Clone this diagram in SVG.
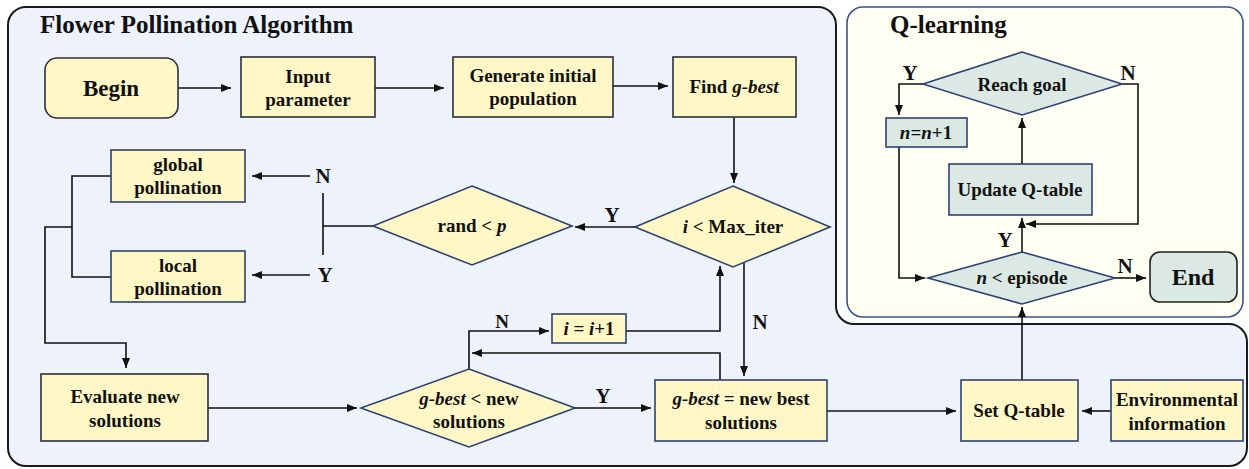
<svg xmlns="http://www.w3.org/2000/svg" width="1249" height="469" viewBox="0 0 1249 469">
<defs>
<marker id="ah" markerUnits="userSpaceOnUse" markerWidth="10" markerHeight="8" refX="10" refY="4" orient="auto">
<path d="M0,0 L10,4 L0,8 Z" fill="#111"/>
</marker>
<style>
text{font-family:"Liberation Serif","Times New Roman",serif;font-weight:bold;fill:#111;}
.t{font-size:19px;text-anchor:middle;}
.big{font-size:23px;text-anchor:middle;}
.title{font-size:25px;}
.lbl{font-size:21px;text-anchor:middle;}
.lbls{font-size:19px;text-anchor:middle;}
.y{fill:#fff8c6;stroke:#2a2f3a;stroke-width:1.6;}
.yb{fill:#fff8c6;stroke:#2c4373;stroke-width:1.6;}
.g{fill:#dbe8e3;stroke:#2c4373;stroke-width:1.6;}
.ge{fill:#dbe8e3;stroke:#222;stroke-width:1.6;}
.c path{fill:none;stroke:#111;stroke-width:1.6;}
.a{marker-end:url(#ah);}
</style>
</defs>
<rect width="1249" height="469" fill="#ffffff"/>
<g id="panel-fpa">
<path d="M26 7 H818 A18 18 0 0 1 836 25 V306 A18 18 0 0 0 854 324 H1229 A18 18 0 0 1 1247 342 V448 A18 18 0 0 1 1229 466 H26 A18 18 0 0 1 8 448 V25 A18 18 0 0 1 26 7 Z" fill="#eef3fb" stroke="#1a1a1a" stroke-width="2"/>
<text class="title" x="40" y="33">Flower Pollination Algorithm</text>
</g>
<g id="panel-q">
<rect x="847" y="7" width="396" height="310" rx="16" fill="#fffef3" stroke="#3b5486" stroke-width="1.6"/>
<text class="title" x="890" y="33">Q-learning</text>
</g>
<g class="c" id="connectors">
<path class="a" d="M178 88 H231"/>
<path class="a" d="M375 88 H444"/>
<path class="a" d="M613 86 H668"/>
<path class="a" d="M734 117 V183"/>
<path class="a" d="M635 227 H575"/>
<path d="M373 226 H323 M323 193 V255"/>
<path class="a" d="M310 176 H252"/>
<path class="a" d="M310 275 H252"/>
<path d="M111 176 H72 V277 H111"/>
<path class="a" d="M72 227 H45 V343 H126 V368"/>
<path class="a" d="M208 408 H357"/>
<path class="a" d="M469 369 V331 H549"/>
<path class="a" d="M626 331 H720 V266"/>
<path class="a" d="M720 380 V353 H472"/>
<path class="a" d="M744 263 V376"/>
<path class="a" d="M575 408 H651"/>
<path class="a" d="M827 411 H956"/>
<path class="a" d="M1111 411 H1082"/>
<path class="a" d="M1022 380 V307"/>
<path class="a" d="M1022 252 V218"/>
<path class="a" d="M1022 164 V118"/>
<path class="a" d="M923 84 H899 V115"/>
<path class="a" d="M899 147 V278 H925"/>
<path class="a" d="M1122 84 H1138 V224 H1026"/>
<path class="a" d="M1115 278 H1146"/>
<text class="lbl" x="612" y="222">Y</text>
<text class="lbl" x="323" y="183">N</text>
<text class="lbl" x="325" y="282">Y</text>
<text class="lbls" x="502" y="328">N</text>
<text class="lbl" x="760" y="329">N</text>
<text class="lbl" x="603" y="403">Y</text>
<text class="lbl" x="910" y="80">Y</text>
<text class="lbl" x="1128" y="80">N</text>
<text class="lbl" x="1005" y="247">Y</text>
<text class="lbl" x="1125" y="273">N</text>
</g>
<g id="begin">
<rect class="y" x="45" y="58" width="133" height="60" rx="12"/>
<text class="big" x="111" y="96">Begin</text>
</g>
<g id="input">
<rect class="y" x="241" y="57" width="134" height="60"/>
<text class="t" x="308" y="83">Input</text>
<text class="t" x="308" y="106">parameter</text>
</g>
<g id="generate">
<rect class="y" x="453" y="57" width="160" height="60"/>
<text class="t" x="533" y="82">Generate initial</text>
<text class="t" x="533" y="105">population</text>
</g>
<g id="find">
<rect class="y" x="673" y="57" width="123" height="60"/>
<text class="t" x="734" y="93">Find <tspan font-style="italic">g-best</tspan></text>
</g>
<g id="max-iter">
<polygon class="yb" points="733,186 830,227 733,267 635,227"/>
<text class="t" x="733" y="233"><tspan font-style="italic">i</tspan> &lt; Max_iter</text>
</g>
<g id="rand-p">
<polygon class="yb" points="472,186 572,226 472,265 373,226"/>
<text class="t" x="472" y="232">rand &lt; <tspan font-style="italic">p</tspan></text>
</g>
<g id="global">
<rect class="yb" x="111" y="150" width="134" height="52"/>
<text class="t" x="178" y="171">global</text>
<text class="t" x="178" y="194">pollination</text>
</g>
<g id="local">
<rect class="yb" x="111" y="251" width="134" height="51"/>
<text class="t" x="178" y="272">local</text>
<text class="t" x="178" y="295">pollination</text>
</g>
<g id="evaluate">
<rect class="y" x="41" y="374" width="167" height="67"/>
<text class="t" x="125" y="403">Evaluate new</text>
<text class="t" x="125" y="427">solutions</text>
</g>
<g id="compare">
<polygon class="yb" points="469,369 575,408 469,447 361,408"/>
<text class="t" x="469" y="405"><tspan font-style="italic">g-best</tspan> &lt; new</text>
<text class="t" x="469" y="428">solutions</text>
</g>
<g id="incr">
<rect class="yb" x="552" y="314" width="74" height="29"/>
<text class="t" x="589" y="335"><tspan font-style="italic">i</tspan> = <tspan font-style="italic">i</tspan>+1</text>
</g>
<g id="update-best">
<rect class="yb" x="655" y="380" width="172" height="61"/>
<text class="t" x="741" y="405"><tspan font-style="italic">g-best</tspan> = new best</text>
<text class="t" x="741" y="429">solutions</text>
</g>
<g id="set-q">
<rect class="yb" x="961" y="380" width="117" height="61"/>
<text class="t" x="1019" y="417">Set Q-table</text>
</g>
<g id="env">
<rect class="yb" x="1111" y="380" width="132" height="61"/>
<text class="t" x="1177" y="406">Environmental</text>
<text class="t" x="1177" y="430">information</text>
</g>
<g id="reach-goal">
<polygon class="g" points="1022,52 1122,84 1022,115 923,84"/>
<text class="t" x="1022" y="91">Reach goal</text>
</g>
<g id="n-incr">
<rect class="g" x="886" y="118" width="81" height="29"/>
<text class="t" x="926" y="139"><tspan font-style="italic">n</tspan>=<tspan font-style="italic">n</tspan>+1</text>
</g>
<g id="update-q">
<rect class="g" x="949" y="164" width="143" height="51"/>
<text class="t" x="1020" y="196">Update Q-table</text>
</g>
<g id="episode">
<polygon class="g" points="1022,252 1115,278 1022,304 928,278"/>
<text class="t" x="1022" y="284"><tspan font-style="italic">n</tspan> &lt; episode</text>
</g>
<g id="end">
<rect class="ge" x="1150" y="252" width="87" height="50" rx="10"/>
<text class="big" x="1193" y="285" style="font-size:24px">End</text>
</g>
</svg>
